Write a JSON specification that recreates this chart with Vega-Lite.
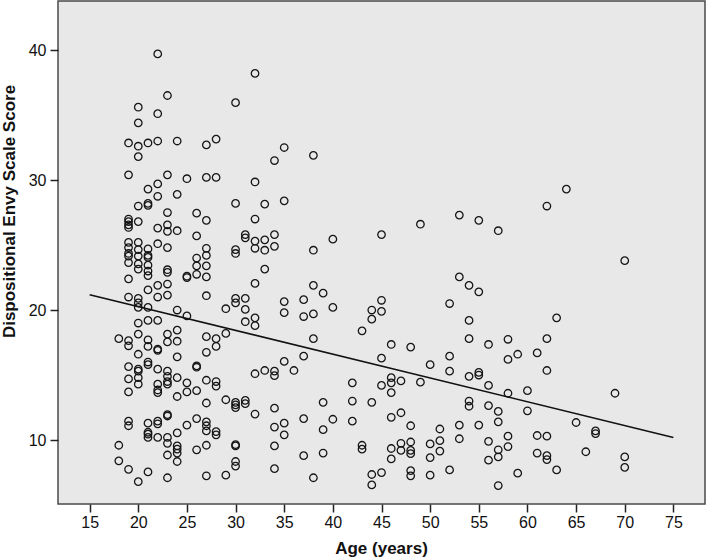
{
  "$schema": "https://vega.github.io/schema/vega-lite/v6.json",
  "width": 647,
  "height": 503,
  "autosize": {"type": "none"},
  "padding": {"left": 58, "top": 1, "right": 1, "bottom": 54},
  "background": "white",
  "config": {
    "view": {"fill": "#e8e8e8", "stroke": "#4a4a4a", "strokeWidth": 1.5},
    "axis": {
      "domain": false,
      "grid": false,
      "ticks": true,
      "tickColor": "#222222",
      "tickWidth": 1.5,
      "tickSize": 8,
      "labelFont": "Liberation Sans",
      "labelFontSize": 16,
      "labelColor": "#111111",
      "titleFont": "Liberation Sans",
      "titleFontWeight": "bold",
      "titleColor": "#111111"
    }
  },
  "datasets": {
    "points": [
      {"age": 18, "envy": 17.8}, {"age": 18, "envy": 9.6}, {"age": 18, "envy": 8.4},
      {"age": 19, "envy": 32.85}, {"age": 19, "envy": 30.4}, {"age": 19, "envy": 27.0}, {"age": 19, "envy": 26.8}, {"age": 19, "envy": 26.55}, {"age": 19, "envy": 26.35}, {"age": 19, "envy": 25.2}, {"age": 19, "envy": 24.8}, {"age": 19, "envy": 24.35}, {"age": 19, "envy": 24.15}, {"age": 19, "envy": 23.65}, {"age": 19, "envy": 22.4}, {"age": 19, "envy": 21.0}, {"age": 19, "envy": 17.65}, {"age": 19, "envy": 17.25}, {"age": 19, "envy": 15.65}, {"age": 19, "envy": 14.7}, {"age": 19, "envy": 13.7}, {"age": 19, "envy": 11.45}, {"age": 19, "envy": 11.1}, {"age": 19, "envy": 7.75},
      {"age": 20, "envy": 35.6}, {"age": 20, "envy": 34.4}, {"age": 20, "envy": 32.6}, {"age": 20, "envy": 31.8}, {"age": 20, "envy": 28.0}, {"age": 20, "envy": 26.8}, {"age": 20, "envy": 25.2}, {"age": 20, "envy": 24.65}, {"age": 20, "envy": 24.15}, {"age": 20, "envy": 23.55}, {"age": 20, "envy": 23.15}, {"age": 20, "envy": 20.9}, {"age": 20, "envy": 20.55}, {"age": 20, "envy": 20.2}, {"age": 20, "envy": 19.0}, {"age": 20, "envy": 18.15}, {"age": 20, "envy": 16.6}, {"age": 20, "envy": 15.45}, {"age": 20, "envy": 15.3}, {"age": 20, "envy": 14.8}, {"age": 20, "envy": 14.3}, {"age": 20, "envy": 6.8},
      {"age": 21, "envy": 32.85}, {"age": 21, "envy": 29.3}, {"age": 21, "envy": 28.2}, {"age": 21, "envy": 28.05}, {"age": 21, "envy": 24.7}, {"age": 21, "envy": 24.2}, {"age": 21, "envy": 24.05}, {"age": 21, "envy": 23.45}, {"age": 21, "envy": 23.0}, {"age": 21, "envy": 22.65}, {"age": 21, "envy": 21.55}, {"age": 21, "envy": 20.2}, {"age": 21, "envy": 19.2}, {"age": 21, "envy": 17.7}, {"age": 21, "envy": 17.2}, {"age": 21, "envy": 16.0}, {"age": 21, "envy": 15.8}, {"age": 21, "envy": 11.3}, {"age": 21, "envy": 10.6}, {"age": 21, "envy": 10.45}, {"age": 21, "envy": 10.2}, {"age": 21, "envy": 7.55},
      {"age": 22, "envy": 39.7}, {"age": 22, "envy": 35.1}, {"age": 22, "envy": 33.0}, {"age": 22, "envy": 29.7}, {"age": 22, "envy": 28.75}, {"age": 22, "envy": 26.3}, {"age": 22, "envy": 25.1}, {"age": 22, "envy": 21.9}, {"age": 22, "envy": 21.0}, {"age": 22, "envy": 19.2}, {"age": 22, "envy": 17.0}, {"age": 22, "envy": 16.9}, {"age": 22, "envy": 15.45}, {"age": 22, "envy": 14.3}, {"age": 22, "envy": 13.85}, {"age": 22, "envy": 13.65}, {"age": 22, "envy": 11.45}, {"age": 22, "envy": 11.25}, {"age": 22, "envy": 10.2},
      {"age": 23, "envy": 36.5}, {"age": 23, "envy": 30.4}, {"age": 23, "envy": 27.5}, {"age": 23, "envy": 26.55}, {"age": 23, "envy": 26.05}, {"age": 23, "envy": 24.8}, {"age": 23, "envy": 23.1}, {"age": 23, "envy": 22.9}, {"age": 23, "envy": 22.0}, {"age": 23, "envy": 21.15}, {"age": 23, "envy": 18.15}, {"age": 23, "envy": 17.55}, {"age": 23, "envy": 15.3}, {"age": 23, "envy": 14.9}, {"age": 23, "envy": 14.5}, {"age": 23, "envy": 14.3}, {"age": 23, "envy": 11.95}, {"age": 23, "envy": 11.85}, {"age": 23, "envy": 10.2}, {"age": 23, "envy": 9.75}, {"age": 23, "envy": 8.85}, {"age": 23, "envy": 7.1},
      {"age": 24, "envy": 33.0}, {"age": 24, "envy": 28.9}, {"age": 24, "envy": 26.1}, {"age": 24, "envy": 20.0}, {"age": 24, "envy": 18.45}, {"age": 24, "envy": 17.6}, {"age": 24, "envy": 16.4}, {"age": 24, "envy": 14.8}, {"age": 24, "envy": 13.35}, {"age": 24, "envy": 10.55}, {"age": 24, "envy": 9.55}, {"age": 24, "envy": 9.3}, {"age": 24, "envy": 9.0}, {"age": 24, "envy": 8.35},
      {"age": 25, "envy": 30.1}, {"age": 25, "envy": 22.6}, {"age": 25, "envy": 22.5}, {"age": 25, "envy": 19.55}, {"age": 25, "envy": 14.4}, {"age": 25, "envy": 13.7}, {"age": 25, "envy": 11.15},
      {"age": 26, "envy": 27.45}, {"age": 26, "envy": 25.7}, {"age": 26, "envy": 24.0}, {"age": 26, "envy": 23.4}, {"age": 26, "envy": 22.75}, {"age": 26, "envy": 15.7}, {"age": 26, "envy": 15.6}, {"age": 26, "envy": 13.8}, {"age": 26, "envy": 11.65}, {"age": 26, "envy": 9.25},
      {"age": 27, "envy": 32.7}, {"age": 27, "envy": 30.2}, {"age": 27, "envy": 26.9}, {"age": 27, "envy": 24.75}, {"age": 27, "envy": 24.2}, {"age": 27, "envy": 23.4}, {"age": 27, "envy": 22.55}, {"age": 27, "envy": 21.1}, {"age": 27, "envy": 17.95}, {"age": 27, "envy": 16.75}, {"age": 27, "envy": 14.6}, {"age": 27, "envy": 12.85}, {"age": 27, "envy": 11.4}, {"age": 27, "envy": 11.1}, {"age": 27, "envy": 10.7}, {"age": 27, "envy": 9.6}, {"age": 27, "envy": 7.25},
      {"age": 28, "envy": 33.15}, {"age": 28, "envy": 30.2}, {"age": 28, "envy": 17.8}, {"age": 28, "envy": 17.2}, {"age": 28, "envy": 14.5}, {"age": 28, "envy": 14.15}, {"age": 28, "envy": 10.65}, {"age": 28, "envy": 10.4},
      {"age": 29, "envy": 20.1}, {"age": 29, "envy": 18.2}, {"age": 29, "envy": 13.1}, {"age": 29, "envy": 7.3},
      {"age": 30, "envy": 35.95}, {"age": 30, "envy": 28.2}, {"age": 30, "envy": 24.65}, {"age": 30, "envy": 24.35}, {"age": 30, "envy": 20.9}, {"age": 30, "envy": 20.55}, {"age": 30, "envy": 12.9}, {"age": 30, "envy": 12.7}, {"age": 30, "envy": 12.5}, {"age": 30, "envy": 9.65}, {"age": 30, "envy": 9.55}, {"age": 30, "envy": 8.35}, {"age": 30, "envy": 8.0},
      {"age": 31, "envy": 25.8}, {"age": 31, "envy": 25.55}, {"age": 31, "envy": 20.9}, {"age": 31, "envy": 20.05}, {"age": 31, "envy": 19.1}, {"age": 31, "envy": 13.05}, {"age": 31, "envy": 12.8},
      {"age": 32, "envy": 38.2}, {"age": 32, "envy": 29.85}, {"age": 32, "envy": 27.0}, {"age": 32, "envy": 25.3}, {"age": 32, "envy": 24.75}, {"age": 32, "envy": 22.05}, {"age": 32, "envy": 19.4}, {"age": 32, "envy": 18.8}, {"age": 32, "envy": 15.1}, {"age": 32, "envy": 12.0},
      {"age": 33, "envy": 28.15}, {"age": 33, "envy": 25.4}, {"age": 33, "envy": 24.6}, {"age": 33, "envy": 23.15}, {"age": 33, "envy": 15.35},
      {"age": 34, "envy": 31.5}, {"age": 34, "envy": 25.8}, {"age": 34, "envy": 24.9}, {"age": 34, "envy": 15.3}, {"age": 34, "envy": 14.95}, {"age": 34, "envy": 12.45}, {"age": 34, "envy": 11.0}, {"age": 34, "envy": 9.55}, {"age": 34, "envy": 7.8},
      {"age": 35, "envy": 32.5}, {"age": 35, "envy": 28.4}, {"age": 35, "envy": 20.65}, {"age": 35, "envy": 19.8}, {"age": 35, "envy": 16.05}, {"age": 35, "envy": 11.3}, {"age": 35, "envy": 10.4},
      {"age": 36, "envy": 15.35},
      {"age": 37, "envy": 20.8}, {"age": 37, "envy": 19.5}, {"age": 37, "envy": 16.45}, {"age": 37, "envy": 11.65}, {"age": 37, "envy": 8.8},
      {"age": 38, "envy": 31.9}, {"age": 38, "envy": 24.6}, {"age": 38, "envy": 21.9}, {"age": 38, "envy": 19.7}, {"age": 38, "envy": 17.8}, {"age": 38, "envy": 7.1},
      {"age": 39, "envy": 21.3}, {"age": 39, "envy": 12.9}, {"age": 39, "envy": 10.8}, {"age": 39, "envy": 9.0},
      {"age": 40, "envy": 25.45}, {"age": 40, "envy": 20.2}, {"age": 40, "envy": 11.6},
      {"age": 42, "envy": 14.4}, {"age": 42, "envy": 13.0}, {"age": 42, "envy": 11.45},
      {"age": 43, "envy": 18.4}, {"age": 43, "envy": 9.6}, {"age": 43, "envy": 9.3},
      {"age": 44, "envy": 20.0}, {"age": 44, "envy": 19.3}, {"age": 44, "envy": 12.9}, {"age": 44, "envy": 7.35}, {"age": 44, "envy": 6.55},
      {"age": 45, "envy": 25.8}, {"age": 45, "envy": 20.75}, {"age": 45, "envy": 19.9}, {"age": 45, "envy": 16.3}, {"age": 45, "envy": 14.2}, {"age": 45, "envy": 7.5},
      {"age": 46, "envy": 17.35}, {"age": 46, "envy": 14.8}, {"age": 46, "envy": 14.4}, {"age": 46, "envy": 13.65}, {"age": 46, "envy": 11.75}, {"age": 46, "envy": 9.35}, {"age": 46, "envy": 8.55},
      {"age": 47, "envy": 14.55}, {"age": 47, "envy": 12.1}, {"age": 47, "envy": 9.75}, {"age": 47, "envy": 9.2},
      {"age": 48, "envy": 17.15}, {"age": 48, "envy": 11.1}, {"age": 48, "envy": 9.85}, {"age": 48, "envy": 9.2}, {"age": 48, "envy": 8.95}, {"age": 48, "envy": 7.65}, {"age": 48, "envy": 7.25},
      {"age": 49, "envy": 26.6}, {"age": 49, "envy": 14.45},
      {"age": 50, "envy": 15.8}, {"age": 50, "envy": 9.7}, {"age": 50, "envy": 8.65}, {"age": 50, "envy": 7.3},
      {"age": 51, "envy": 10.85}, {"age": 51, "envy": 9.95}, {"age": 51, "envy": 9.15},
      {"age": 52, "envy": 20.5}, {"age": 52, "envy": 16.45}, {"age": 52, "envy": 15.3}, {"age": 52, "envy": 7.7},
      {"age": 53, "envy": 27.3}, {"age": 53, "envy": 22.55}, {"age": 53, "envy": 11.15}, {"age": 53, "envy": 10.1},
      {"age": 54, "envy": 21.9}, {"age": 54, "envy": 19.2}, {"age": 54, "envy": 17.8}, {"age": 54, "envy": 14.9}, {"age": 54, "envy": 13.0}, {"age": 54, "envy": 12.6},
      {"age": 55, "envy": 26.9}, {"age": 55, "envy": 21.4}, {"age": 55, "envy": 15.2}, {"age": 55, "envy": 15.0}, {"age": 55, "envy": 11.15},
      {"age": 56, "envy": 17.35}, {"age": 56, "envy": 14.2}, {"age": 56, "envy": 12.65}, {"age": 56, "envy": 9.9}, {"age": 56, "envy": 8.45},
      {"age": 57, "envy": 26.1}, {"age": 57, "envy": 12.2}, {"age": 57, "envy": 11.4}, {"age": 57, "envy": 9.25}, {"age": 57, "envy": 8.7}, {"age": 57, "envy": 6.5},
      {"age": 58, "envy": 17.75}, {"age": 58, "envy": 16.2}, {"age": 58, "envy": 13.6}, {"age": 58, "envy": 10.3}, {"age": 58, "envy": 9.5},
      {"age": 59, "envy": 16.6}, {"age": 59, "envy": 7.45},
      {"age": 60, "envy": 13.8}, {"age": 60, "envy": 12.25},
      {"age": 61, "envy": 16.7}, {"age": 61, "envy": 10.35}, {"age": 61, "envy": 9.0},
      {"age": 62, "envy": 28.0}, {"age": 62, "envy": 17.8}, {"age": 62, "envy": 15.35}, {"age": 62, "envy": 10.3}, {"age": 62, "envy": 8.8}, {"age": 62, "envy": 8.5},
      {"age": 63, "envy": 19.4}, {"age": 63, "envy": 7.7},
      {"age": 64, "envy": 29.3},
      {"age": 65, "envy": 11.35},
      {"age": 66, "envy": 9.1},
      {"age": 67, "envy": 10.7}, {"age": 67, "envy": 10.5},
      {"age": 69, "envy": 13.6},
      {"age": 70, "envy": 23.8}, {"age": 70, "envy": 8.7}, {"age": 70, "envy": 7.9}
    ],
    "fit": [
      {"age": 15, "envy": 21.18},
      {"age": 75, "envy": 10.2}
    ]
  },
  "layer": [
    {
      "data": {"name": "points"},
      "mark": {"type": "point", "shape": "circle", "filled": false, "size": 56, "stroke": "#151515", "strokeWidth": 1.3, "opacity": 1},
      "encoding": {
        "x": {
          "field": "age", "type": "quantitative",
          "scale": {"domain": [11.75, 78.25], "nice": false, "zero": false},
          "axis": {
            "values": [15, 20, 25, 30, 35, 40, 45, 50, 55, 60, 65, 70, 75],
            "title": "Age (years)",
            "titleFontSize": 17,
            "titleBaseline": "alphabetic",
            "titleX": 323,
            "titleY": 49,
            "labelPadding": 2
          }
        },
        "y": {
          "field": "envy", "type": "quantitative",
          "scale": {"domain": [5.08, 43.77], "nice": false, "zero": false},
          "axis": {
            "values": [10, 20, 30, 40],
            "title": "Dispositional Envy Scale Score",
            "titleFontSize": 17,
            "titleAngle": 270,
            "titleAlign": "center",
            "titleBaseline": "bottom",
            "titleX": -40,
            "titleY": 210,
            "labelPadding": 4
          }
        }
      }
    },
    {
      "data": {"name": "fit"},
      "mark": {"type": "line", "color": "#111111", "strokeWidth": 1.6},
      "encoding": {
        "x": {"field": "age", "type": "quantitative"},
        "y": {"field": "envy", "type": "quantitative"}
      }
    }
  ]
}
